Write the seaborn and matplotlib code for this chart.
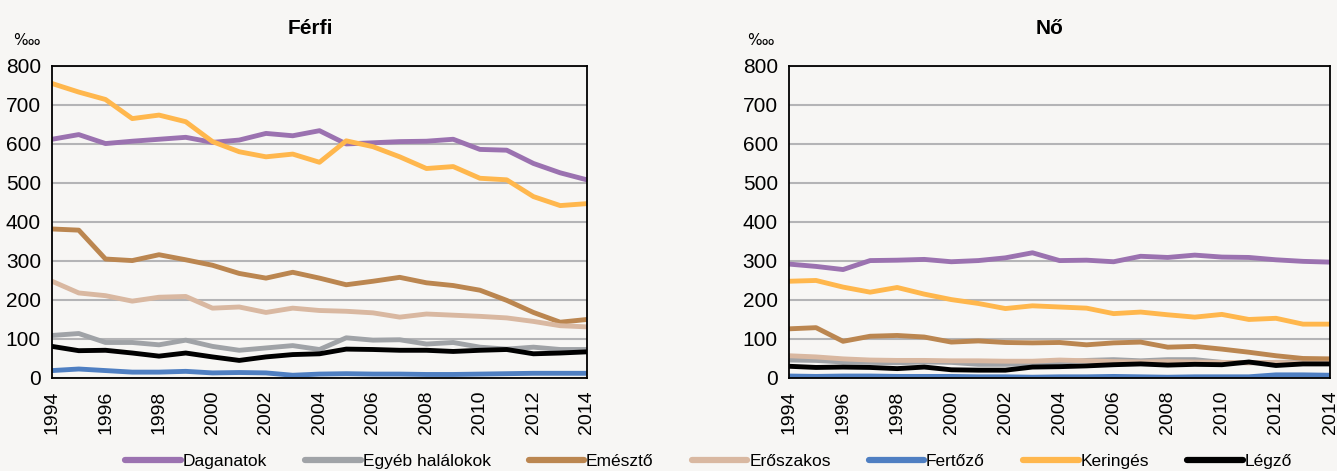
import matplotlib
matplotlib.use("Agg")
import matplotlib.pyplot as plt
import seaborn as sns
import pandas as pd

# Halálozási arányszámok haláloki főcsoportonként (tízezrelék)
years = list(range(1994, 2015))
causes = ["Daganatok", "Egyéb halálokok", "Emésztő", "Erőszakos", "Fertőző", "Keringés", "Légző"]

ferfi_daganatok = [612, 624, 601, 607, 612, 617, 604, 610, 627, 621, 634, 600, 603, 606, 607, 612, 586, 584, 550, 526, 508]
ferfi_egyeb = [109, 114, 91, 91, 85, 97, 81, 71, 77, 83, 73, 103, 97, 98, 87, 91, 79, 74, 79, 73, 73]
ferfi_emeszto = [382, 379, 305, 301, 316, 303, 289, 268, 256, 271, 256, 239, 248, 258, 244, 237, 225, 199, 168, 143, 150]
ferfi_eroszakos = [248, 218, 211, 197, 207, 209, 179, 182, 168, 179, 173, 171, 167, 156, 164, 161, 158, 154, 145, 134, 131]
ferfi_fertozo = [19, 23, 19, 15, 15, 17, 13, 14, 13, 7, 10, 11, 10, 10, 9, 9, 10, 11, 12, 12, 12]
ferfi_keringes = [755, 733, 714, 665, 674, 657, 606, 580, 567, 574, 553, 608, 593, 567, 537, 542, 512, 508, 465, 442, 447]
ferfi_legzo = [81, 70, 71, 64, 56, 64, 54, 45, 54, 60, 62, 74, 73, 71, 71, 68, 71, 73, 62, 64, 67]

no_daganatok = [292, 286, 278, 301, 302, 304, 298, 301, 308, 321, 301, 302, 298, 312, 309, 315, 310, 309, 303, 299, 297]
no_egyeb = [46, 45, 41, 40, 39, 41, 40, 35, 35, 37, 40, 45, 47, 44, 47, 47, 40, 39, 40, 41, 40]
no_emeszto = [126, 129, 94, 107, 109, 105, 92, 95, 91, 90, 91, 85, 90, 92, 79, 81, 74, 66, 57, 50, 49]
no_eroszakos = [57, 54, 49, 46, 45, 45, 44, 44, 43, 43, 46, 44, 42, 41, 42, 41, 40, 39, 40, 38, 38]
no_fertozo = [5, 4, 5, 5, 4, 4, 4, 3, 3, 2, 3, 3, 4, 3, 2, 3, 3, 3, 8, 8, 7]
no_keringes = [248, 250, 233, 220, 232, 215, 201, 191, 178, 185, 182, 179, 165, 169, 162, 156, 163, 150, 153, 138, 138]
no_legzo = [30, 27, 28, 27, 24, 28, 21, 20, 20, 28, 29, 31, 34, 36, 33, 35, 34, 41, 32, 36, 36]

y_ticks = [0, 100, 200, 300, 400, 500, 600, 700, 800]
x_tick_labels = [str(y) for y in range(1994, 2015, 2)]

palette = {
    "Daganatok": "#9B72B0",
    "Egyéb halálokok": "#A0A3A7",
    "Emésztő": "#BB8650",
    "Erőszakos": "#D9B8A1",
    "Fertőző": "#4F7FC2",
    "Keringés": "#FFB74D",
    "Légző": "#000000",
}


def long_frame(series):
    rows = []
    for cause, values in zip(causes, series):
        for yr, v in zip(years, values):
            rows.append({"Év": yr, "Ok": cause, "Érték": v})
    return pd.DataFrame(rows)


df_ferfi = long_frame([ferfi_daganatok, ferfi_egyeb, ferfi_emeszto, ferfi_eroszakos,
                       ferfi_fertozo, ferfi_keringes, ferfi_legzo])
df_no = long_frame([no_daganatok, no_egyeb, no_emeszto, no_eroszakos,
                    no_fertozo, no_keringes, no_legzo])

sns.set_style("white")
bg = "#F7F6F4"
plt.rcParams["font.family"] = ["Liberation Sans", "DejaVu Sans"]
plt.rcParams["figure.facecolor"] = bg
plt.rcParams["axes.facecolor"] = bg
plt.rcParams["savefig.facecolor"] = bg
plt.rcParams["text.color"] = "black"
plt.rcParams["xtick.color"] = "black"
plt.rcParams["ytick.color"] = "black"

fig = plt.figure(figsize=(13.37, 4.71), dpi=100)
ax_f = fig.add_axes([0.0389, 0.1975, 0.4001, 0.6625])
ax_n = fig.add_axes([0.5901, 0.1975, 0.4047, 0.6625])

for ax, df, title, tx in [(ax_f, df_ferfi, "Férfi", 0.232), (ax_n, df_no, "Nő", 0.785)]:
    sns.lineplot(data=df, x="Év", y="Érték", hue="Ok", hue_order=causes,
                 palette=palette, linewidth=3.5, ax=ax, legend=False,
                 solid_capstyle="round", solid_joinstyle="round")
    ax.set_xlim(1994, 2014)
    ax.set_ylim(0, 800)
    ax.set_yticks(y_ticks)
    ax.set_yticklabels([str(t) for t in y_ticks], fontsize=15)
    ax.set_xticks(range(1994, 2015, 2))
    ax.set_xticklabels(x_tick_labels, rotation=90, fontsize=14)
    ax.set_xticks(range(1994, 2015), minor=True)
    ax.tick_params(axis="x", which="both", direction="out", length=6, width=1.2,
                   color="black", pad=3)
    ax.tick_params(axis="y", direction="out", length=6, width=1.2, color="black", pad=2)
    ax.grid(axis="y", color="#B4B4B6", linewidth=1.5)
    ax.set_axisbelow(True)
    for sp in ax.spines.values():
        sp.set_visible(True)
        sp.set_color("black")
        sp.set_linewidth(1.3)
    ax.set_xlabel("")
    ax.set_ylabel("")
    fig.text(tx, 0.94, title, ha="center", va="center", fontsize=15, fontweight="bold")

fig.text(0.0095, 0.915, "‱", ha="left", va="center", fontsize=11,
         family=["DejaVu Sans"])
fig.text(0.5585, 0.915, "‱", ha="left", va="center", fontsize=11,
         family=["DejaVu Sans"])

handles = [plt.Line2D([0], [0], color=palette[c], linewidth=4.5) for c in causes]
fig.legend(handles, causes, loc="center", bbox_to_anchor=(0.53, 0.02), ncol=7,
           frameon=False, fontsize=12.5, handlelength=3.2, handletextpad=0.1,
           columnspacing=2.2)

fig.savefig("out.png", dpi=100, facecolor=bg)
